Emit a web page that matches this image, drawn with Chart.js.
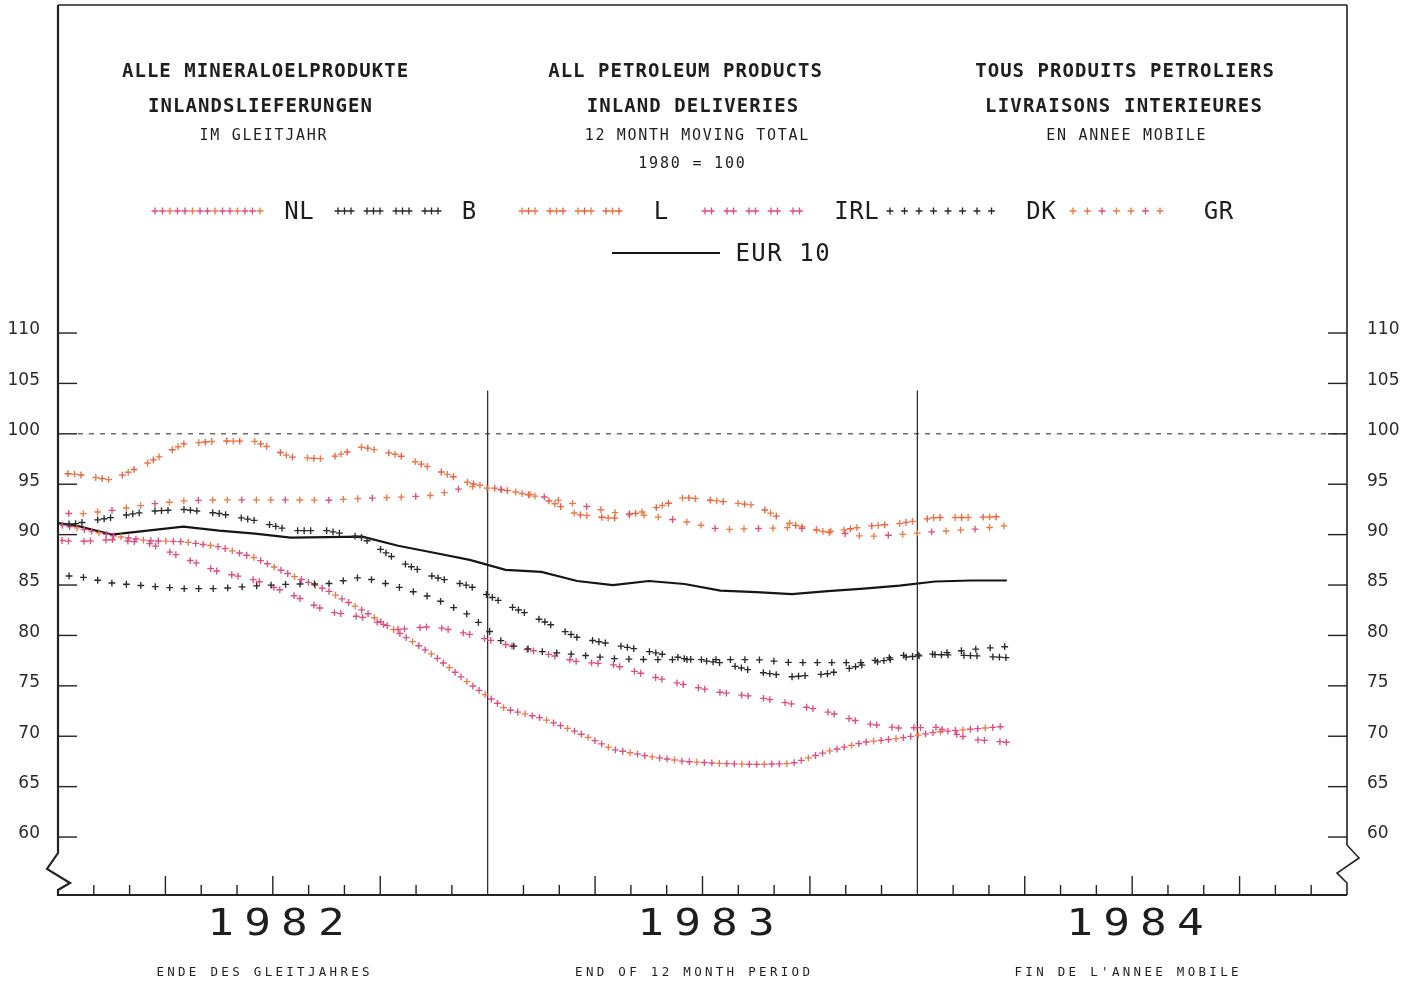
<!DOCTYPE html>
<html>
<head>
<meta charset="utf-8">
<script src="https://cdn.jsdelivr.net/npm/chart.js@4.4.0/dist/chart.umd.min.js"></script>
<style>
html,body{margin:0;padding:0;background:#fff;}
#wrap{position:relative;width:1415px;height:989px;overflow:hidden;background:#fff;}
#c{position:absolute;left:0;top:0;}
.t{position:absolute;white-space:nowrap;transform:translate(-50%,-50%);line-height:1;color:#1e1e1e;font-family:"DejaVu Sans Mono",monospace;}
</style>
</head>
<body>
<div id="wrap"><canvas id="c" width="1415" height="989"></canvas></div>
<script>
// ---------------- DATA ----------------
// months: 12-month moving totals, Dec 1981 .. Mar 1984 (index 1980 = 100)
const months = ['1981-12',
  '1982-01','1982-02','1982-03','1982-04','1982-05','1982-06','1982-07','1982-08','1982-09','1982-10','1982-11','1982-12',
  '1983-01','1983-02','1983-03','1983-04','1983-05','1983-06','1983-07','1983-08','1983-09','1983-10','1983-11','1983-12',
  '1984-01','1984-02','1984-03'];
const years = ['1982','1983','1984'];
const yTicks = [60,65,70,75,80,85,90,95,100,105,110];

const NL  = [91.3,90.7,89.9,89.4,89.3,88.8,87.7,86.0,84.5,82.5,80.3,78.0,75.2,72.7,71.8,70.4,68.7,68.0,67.5,67.3,67.2,67.3,68.5,69.4,69.8,70.4,70.7,71.0];
const B   = [90.9,91.1,91.7,92.3,92.5,92.1,91.4,90.4,90.4,89.7,87.4,85.8,84.9,83.1,81.5,79.8,79.1,78.4,77.7,77.3,76.4,75.9,76.2,77.1,77.8,78.1,78.0,77.8];
const L   = [96.2,96.0,95.4,97.1,99.0,99.3,99.25,97.7,97.5,98.7,97.9,96.5,95.1,94.4,93.7,92.0,91.6,92.4,93.7,93.3,92.9,91.0,90.2,90.8,91.1,91.7,91.7,91.8];
const IRL = [89.6,89.3,89.5,89.2,87.7,86.3,85.5,84.1,82.4,81.8,80.6,80.9,80.1,79.1,78.3,77.4,77.1,76.0,75.1,74.35,73.9,73.2,72.4,71.3,70.8,70.9,69.7,69.4];
const DK  = [85.9,85.9,85.2,84.9,84.65,84.65,84.9,85.1,85.1,85.8,84.8,83.7,82.0,79.1,78.4,78.1,77.7,77.6,77.6,77.6,77.6,77.3,77.3,77.3,78.0,78.15,78.6,78.9];
const GR  = [92.5,92.0,92.4,93.0,93.35,93.45,93.45,93.45,93.4,93.6,93.7,93.9,94.8,94.4,93.8,93.0,92.2,91.9,91.3,90.5,90.6,90.7,90.4,89.8,90.0,90.3,90.5,90.9];
const EUR10 = [91.4,90.9,90.0,90.4,90.8,90.4,90.1,89.7,89.75,89.8,88.9,88.2,87.5,86.5,86.3,85.4,85.0,85.4,85.1,84.45,84.3,84.1,84.4,84.65,84.95,85.35,85.45,85.45];

const refValue = 100;      // base year level (dashed line)
const dividerTop = 104.3;  // year divider lines start here

// ---------------- STYLES ----------------
const PINK = '#de4f7c', ORANGE = '#ec7a45', BLACK = '#2a2a2a';
const styles = {
  'NL':  {period:7.5, offsets:[0], colors:[PINK, PINK, ORANGE]},
  'B':   {period:29, offsets:[0,6.5,13], colors:[BLACK]},
  'L':   {period:28, offsets:[0,6.5,13], colors:[ORANGE, '#e8603e']},
  'IRL': {period:22, offsets:[0,6.5], colors:[PINK]},
  'DK':  {period:14.5, offsets:[0], colors:[BLACK]},
  'GR':  {period:14.5, offsets:[0], colors:[ORANGE, ORANGE, PINK]}
};
const seriesList = [
  ['NL', NL], ['B', B], ['L', L], ['IRL', IRL], ['DK', DK], ['GR', GR]
];

// x position on the linear month axis (0 = start of 1982); values sit mid-month
const xPos = months.map((m, i) => i - 0.5);
const toPts = vals => vals.map((v, i) => ({x: xPos[i], y: v}));

const datasets = seriesList.map(([name, vals]) => ({
  label: name, data: toPts(vals), showLine: false, pointRadius: 0, borderWidth: 0
}));
datasets.push({label:'EUR 10', data: toPts(EUR10), showLine:true, borderColor:'#161616', borderWidth:2.2, pointRadius:0, tension:0, fill:false});

// ---------------- DRAW HELPERS ----------------
function cross(ctx, x, y, a){
  ctx.beginPath();
  ctx.moveTo(x - a, y); ctx.lineTo(x + a, y);
  ctx.moveTo(x, y - a); ctx.lineTo(x, y + a);
  ctx.stroke();
}
function walkMarkers(ctx, pts, st){
  const cum = [0];
  for (let i = 1; i < pts.length; i++){
    cum.push(cum[i-1] + Math.hypot(pts[i].x - pts[i-1].x, pts[i].y - pts[i-1].y));
  }
  const total = cum[cum.length - 1];
  let seg = 1, n = 0;
  const list = [];
  for (let base = 0; base <= total; base += st.period){
    for (const off of st.offsets){ const d = base + off; if (d <= total) list.push(d); }
  }
  list.sort((a,b)=>a-b);
  for (const d of list){
    while (seg < pts.length - 1 && cum[seg] < d) seg++;
    const s0 = cum[seg-1], s1 = cum[seg];
    const t = s1 > s0 ? (d - s0) / (s1 - s0) : 0;
    const x = pts[seg-1].x + (pts[seg].x - pts[seg-1].x) * t;
    const y = pts[seg-1].y + (pts[seg].y - pts[seg-1].y) * t;
    ctx.strokeStyle = st.colors[n % st.colors.length];
    cross(ctx, x, y, 3.4);
    n++;
  }
}
function seg(ctx, x1, y1, x2, y2){ ctx.beginPath(); ctx.moveTo(x1, y1); ctx.lineTo(x2, y2); ctx.stroke(); }

// legend sample layout
const legendRow = [
  {name:'NL',  x0:155,  x1:262,  y:211},
  {name:'B',   x0:338,  x1:443,  y:211},
  {name:'L',   x0:522,  x1:628,  y:211},
  {name:'IRL', x0:705,  x1:804,  y:211},
  {name:'DK',  x0:890,  x1:996,  y:211},
  {name:'GR',  x0:1073, x1:1164, y:211}
];
const legendLine = {x0:612, x1:720, y:253};

const decor = {
  id: 'decor',
  beforeDatasetsDraw(chart){
    const {ctx, chartArea: a, scales: {x, y}} = chart;
    ctx.save();
    ctx.strokeStyle = '#222';
    ctx.lineJoin = 'miter';
    // top border
    ctx.lineWidth = 1.6;
    seg(ctx, a.left, a.top, a.right, a.top);
    // left border with break symbol + bottom axis
    ctx.lineWidth = 2.2;
    ctx.beginPath();
    ctx.moveTo(a.left, a.top);
    ctx.lineTo(a.left, a.bottom - 42);
    ctx.lineTo(a.left - 11, a.bottom - 26);
    ctx.lineTo(a.left + 12, a.bottom - 12);
    ctx.lineTo(a.left, a.bottom - 5);
    ctx.lineTo(a.left, a.bottom);
    ctx.lineTo(a.right, a.bottom);
    ctx.stroke();
    // right border with break symbol
    ctx.lineWidth = 1.6;
    ctx.beginPath();
    ctx.moveTo(a.right, a.top);
    ctx.lineTo(a.right, a.bottom - 50);
    ctx.lineTo(a.right + 12, a.bottom - 37);
    ctx.lineTo(a.right - 10, a.bottom - 22);
    ctx.lineTo(a.right, a.bottom - 12);
    ctx.lineTo(a.right, a.bottom);
    ctx.stroke();
    // y ticks (inward, both sides)
    ctx.lineWidth = 1.4;
    for (const v of yTicks){
      const py = y.getPixelForValue(v);
      seg(ctx, a.left, py, a.left + 19, py);
      seg(ctx, a.right - 19, py, a.right, py);
    }
    // dashed base line
    ctx.lineWidth = 1;
    ctx.setLineDash([5, 6]);
    const p100 = y.getPixelForValue(refValue);
    seg(ctx, a.left + 20, p100, a.right, p100);
    ctx.setLineDash([]);
    // x ticks and year dividers
    for (let m = 1; m < 36; m++){
      const px = x.getPixelForValue(m);
      if (m % 12 === 0){
        ctx.lineWidth = 1.2;
        seg(ctx, px, y.getPixelForValue(dividerTop), px, a.bottom);
      } else {
        ctx.lineWidth = 1.4;
        const len = (m % 3 === 0) ? 19 : 10;
        seg(ctx, px, a.bottom, px, a.bottom - len);
      }
    }
    ctx.restore();
  },
  afterDatasetsDraw(chart){
    const {ctx, chartArea: a} = chart;
    ctx.save();
    ctx.beginPath();
    ctx.rect(a.left + 2, a.top, a.right - a.left - 3, a.bottom - a.top);
    ctx.clip();
    ctx.lineWidth = 1.35;
    chart.data.datasets.forEach((ds, i) => {
      const st = styles[ds.label];
      if (!st) return;
      const pts = chart.getDatasetMeta(i).data.map(p => ({x: p.x, y: p.y}));
      walkMarkers(ctx, pts, st);
    });
    ctx.restore();
    // legend samples
    ctx.save();
    ctx.lineWidth = 1.35;
    for (const it of legendRow){
      walkMarkers(ctx, [{x: it.x0, y: it.y}, {x: it.x1, y: it.y}], styles[it.name]);
    }
    ctx.strokeStyle = '#161616';
    ctx.lineWidth = 2.2;
    seg(ctx, legendLine.x0, legendLine.y, legendLine.x1, legendLine.y);
    ctx.restore();
  }
};

const yAxisCommon = {
  min: 54.25, max: 142.54,
  grid: {display: false, drawTicks: false, tickLength: 0}, border: {display: false},
  ticks: {font: {family: 'DejaVu Sans', size: 17}, color: '#2a2a2a', labelOffset: -3}
};

const chart = new Chart(document.getElementById('c'), {
  type: 'scatter',
  data: {datasets},
  options: {
    responsive: false, animation: false, devicePixelRatio: 1,
    layout: {autoPadding: false, padding: {top: 5, bottom: 94, left: 0, right: 0}},
    plugins: {legend: {display: false}, tooltip: {enabled: false}, title: {display: false}},
    scales: {
      x: {type: 'linear', min: 0, max: 36, display: false},
      y: Object.assign({}, yAxisCommon, {
        position: 'left',
        ticks: Object.assign({}, yAxisCommon.ticks, {padding: 18}),
        afterFit(s){ s.width = 58; s.paddingTop = 0; s.paddingBottom = 0; },
        afterBuildTicks(s){ s.ticks = yTicks.map(v => ({value: v})); }
      }),
      y2: Object.assign({}, yAxisCommon, {
        position: 'right',
        ticks: Object.assign({}, yAxisCommon.ticks, {padding: 20}),
        afterFit(s){ s.width = 68; s.paddingTop = 0; s.paddingBottom = 0; },
        afterBuildTicks(s){ s.ticks = yTicks.map(v => ({value: v})); }
      })
    }
  },
  plugins: [decor]
});

// ---------------- TEXT ----------------
const wrap = document.getElementById('wrap');
function addText(str, cx, cy, size, spacing, weight, extra){
  const d = document.createElement('div');
  d.className = 't';
  d.textContent = str;
  d.style.left = cx + 'px';
  d.style.top = cy + 'px';
  d.style.fontSize = size + 'px';
  d.style.letterSpacing = spacing + 'px';
  d.style.paddingLeft = spacing + 'px';
  d.style.fontWeight = weight || 'normal';
  if (extra) d.style.transform = 'translate(-50%,-50%) ' + extra;
  wrap.appendChild(d);
}
// headings (German / English / French)
addText('ALLE MINERALOELPRODUKTE', 265, 70, 19, 1.05, 'bold');
addText('INLANDSLIEFERUNGEN', 260, 105, 19, 1.05, 'bold');
addText('IM GLEITJAHR', 263, 135, 15, 1.7);
addText('ALL PETROLEUM PRODUCTS', 685, 70, 19, 1.05, 'bold');
addText('INLAND DELIVERIES', 692.5, 105, 19, 1.05, 'bold');
addText('12 MONTH MOVING TOTAL', 696.5, 135, 15, 1.7);
addText('1980 = 100', 691.5, 163, 15, 1.8);
addText('TOUS PRODUITS PETROLIERS', 1124.5, 70, 19, 1.05, 'bold');
addText('LIVRAISONS INTERIEURES', 1123.5, 105, 19, 1.2, 'bold');
addText('EN ANNEE MOBILE', 1126, 135, 15, 1.7);
// legend labels
const legendLabelPos = {'NL':299, 'B':469, 'L':661, 'IRL':856.5, 'DK':1041, 'GR':1218.5};
for (const it of legendRow) addText(it.name, legendLabelPos[it.name], it.y, 24, 0.5);
addText('EUR 10', 782.5, legendLine.y, 24, 1.5);
// year labels centred on each year of the x scale
years.forEach((yr, i) => {
  const px = chart.scales.x.getPixelForValue(i * 12 + 6);
  addText(yr, px + 3, 921.5, 37, 8.5, 'normal', 'scaleX(1.2)');
});
// bottom captions
addText('ENDE DES GLEITJAHRES', 263, 972, 12.5, 3.3);
addText('END OF 12 MONTH PERIOD', 692.5, 972, 12.5, 3.3);
addText("FIN DE L'ANNEE MOBILE", 1126.5, 972, 12.5, 3.3);
</script>
</body>
</html>
